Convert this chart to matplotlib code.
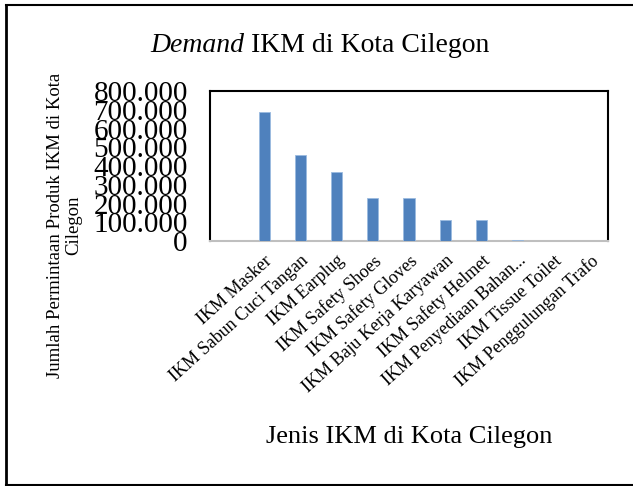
import matplotlib
matplotlib.use("Agg")
import matplotlib.pyplot as plt
from matplotlib.lines import Line2D
from matplotlib.ticker import FuncFormatter

# permintaan per jenis IKM
jenis_ikm = ["IKM Masker", "IKM Sabun Cuci Tangan", "IKM Earplug", "IKM Safety Shoes",
             "IKM Safety Gloves", "IKM Baju Kerja Karyawan", "IKM Safety Helmet",
             "IKM Penyediaan Bahan...", "IKM Tissue Toilet", "IKM Penggulungan Trafo"]
demand = [690000, 460000, 366000, 228000, 228000, 110000, 110000, 6000, 1500, 300]
yticks = [0, 100000, 200000, 300000, 400000, 500000, 600000, 700000, 800000]

serif = "Liberation Serif"

fig = plt.figure(figsize=(6.33, 4.86), dpi=100)
ax = fig.add_axes([210 / 633, 1 - 241 / 486, 398 / 633, 150 / 486])

pos = list(range(1, len(jenis_ikm) + 1))
ax.bar(pos, demand, width=0.31, color="#4f81bd", edgecolor="#9bbbe0", linewidth=0.6, zorder=3)

ax.set_xlim(-0.5, len(jenis_ikm) + 0.5)
ax.set_ylim(0, 800000)
ax.set_yticks(yticks)
ax.yaxis.set_major_formatter(FuncFormatter(lambda v, p: "0" if v == 0 else f"{int(v):,}".replace(",", ".")))
ax.set_xticks(pos)
ax.set_xticklabels(jenis_ikm, rotation=42, ha="right", rotation_mode="anchor",
                   fontsize=13, family=serif)
for lbl in ax.get_yticklabels():
    lbl.set_fontsize(21)
    lbl.set_family(serif)
ax.tick_params(axis="both", length=0)
ax.tick_params(axis="y", pad=16)
ax.tick_params(axis="x", pad=8)

for side in ["top", "left", "right"]:
    ax.spines[side].set_color("black")
    ax.spines[side].set_linewidth(1.5)
ax.spines["bottom"].set_color("#bfbfbf")
ax.spines["bottom"].set_linewidth(1.5)

ax.set_ylabel("Jumlah Permintaan Produk IKM di Kota\nCilegon", fontsize=13.5, family=serif,
              linespacing=1.05)
ax.yaxis.set_label_coords((82 - 210) / 398, (241 - 225) / 150)

ax.set_xlabel("Jenis IKM di Kota Cilegon", fontsize=19, family=serif)
ax.xaxis.set_label_coords(0.5, (241 - 426) / 150)

# judul: "Demand" miring, sisanya tegak
t1 = fig.text(0, 0, "Demand", fontsize=20, family=serif, style="italic", va="center")
t2 = fig.text(0, 0, " IKM di Kota Cilegon", fontsize=20, family=serif, va="center")
fig.canvas.draw()
r = fig.canvas.get_renderer()
w1 = t1.get_window_extent(r).width
w2 = t2.get_window_extent(r).width
x0 = 320 - (w1 + w2) / 2
t1.set_position((x0 / 633, 1 - 45 / 486))
t2.set_position(((x0 + w1) / 633, 1 - 45 / 486))

# bingkai luar
fig.add_artist(Line2D([6 / 633, 6 / 633], [1 - 5 / 486, 1 - 485 / 486], color="black", linewidth=2))
fig.add_artist(Line2D([6 / 633, 1], [1 - 5 / 486, 1 - 5 / 486], color="black", linewidth=1.5))
fig.add_artist(Line2D([6 / 633, 1], [1 - 485 / 486, 1 - 485 / 486], color="black", linewidth=1.5))

fig.savefig("out.png", dpi=100)
